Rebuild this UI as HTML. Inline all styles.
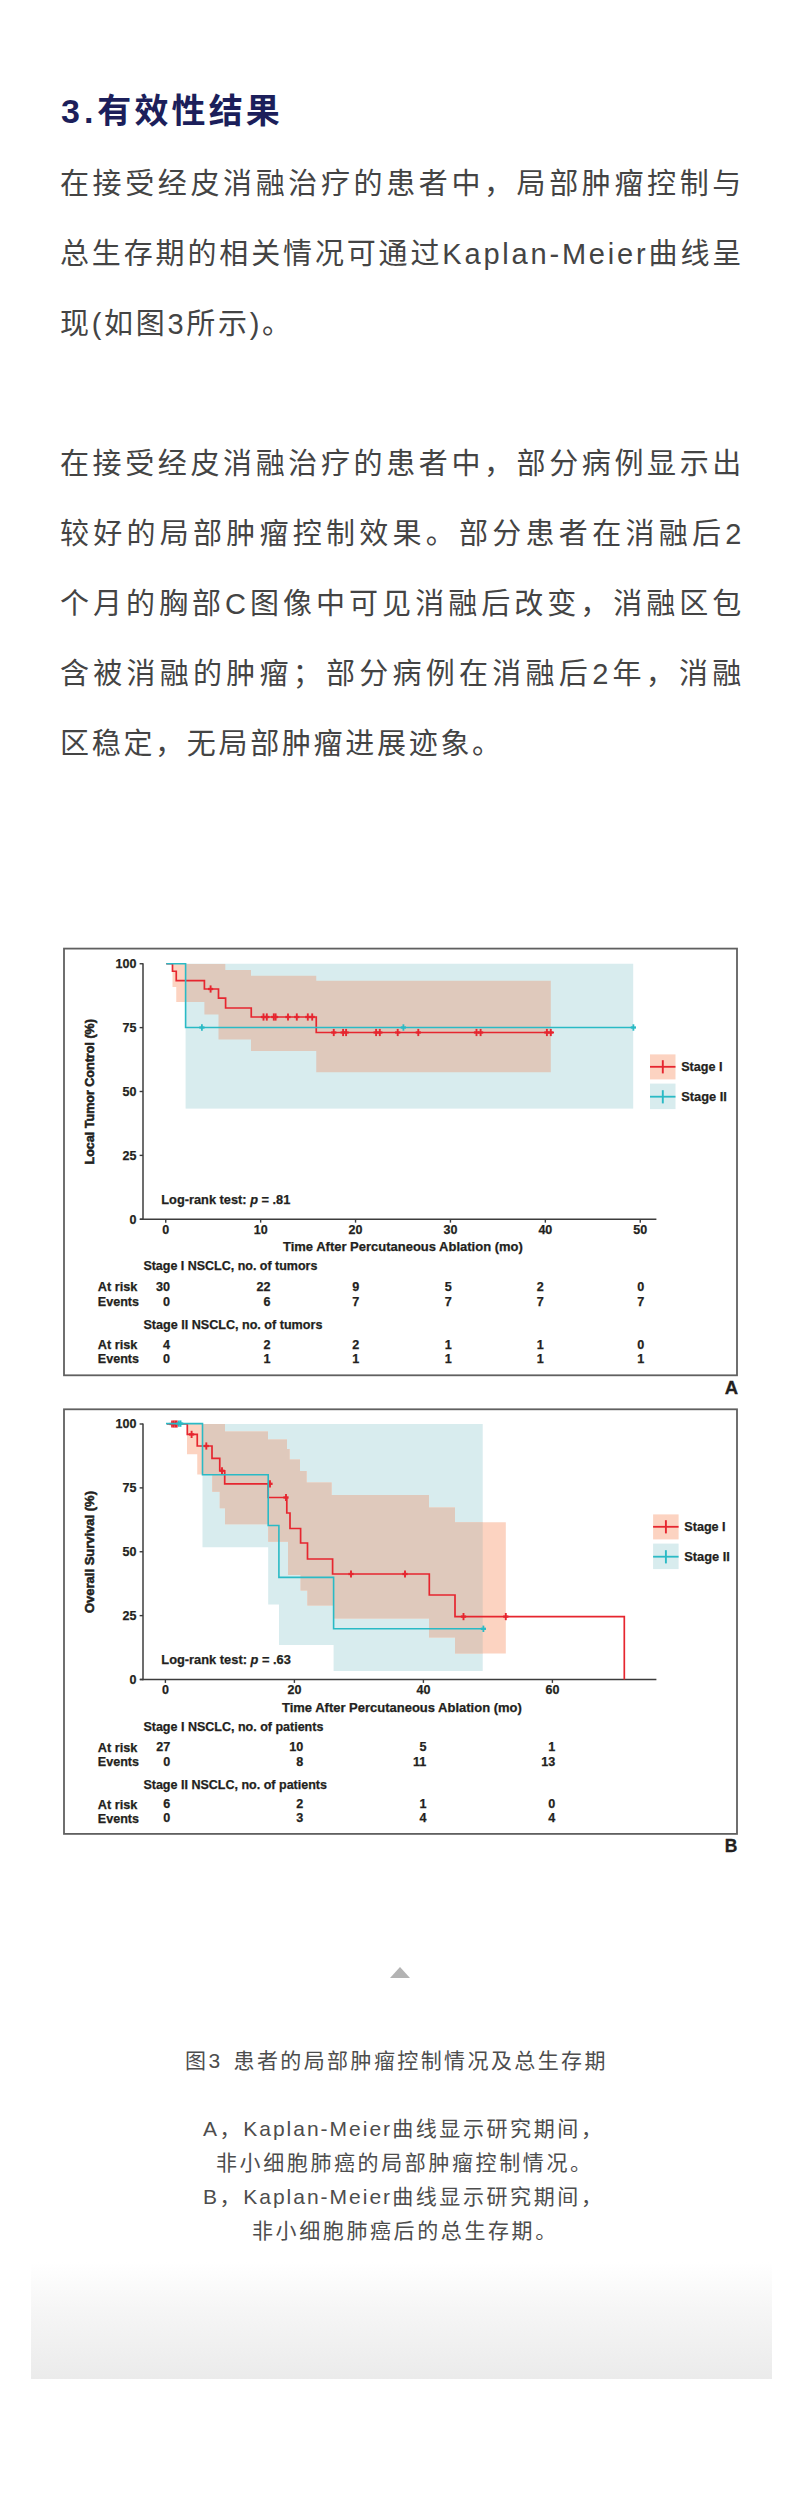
<!DOCTYPE html>
<html lang="zh-CN">
<head>
<meta charset="utf-8">
<title>3.有效性结果</title>
<style>
html,body{margin:0;padding:0;background:#fff;}
body{width:800px;height:2519px;position:relative;overflow:hidden;}
.t{position:absolute;white-space:nowrap;font-family:"Liberation Sans","Noto Sans CJK SC",sans-serif;}
h2.t{margin:0;left:61px;top:86px;font-size:34px;line-height:50px;font-weight:bold;color:#1c1f5b;letter-spacing:3.1px;}
.p{left:60px;font-size:29px;line-height:70px;height:70px;color:#444;letter-spacing:2.7px;width:684px;text-align:justify;text-align-last:justify;}
.p.last{text-align:left;text-align-last:left;width:auto;}
.charts{position:absolute;left:0;top:0;}
.tri{position:absolute;left:390px;top:1967px;width:0;height:0;border-left:10px solid transparent;border-right:10px solid transparent;border-bottom:11px solid #b3b3b3;}
.grad{position:absolute;left:31px;top:2262px;width:741px;height:117px;background:linear-gradient(to bottom,#fff 0%,#f6f6f6 40%,#ebebeb 100%);}
.c{font-size:21px;line-height:34px;color:#4d4d4d;letter-spacing:2.6px;}
.l{letter-spacing:2.8px;}
.c .l{letter-spacing:2.0px;}
</style>
</head>
<body>
<h2 class="t"><span style="letter-spacing:4px">3.</span>有效性结果</h2>
<div class="t p" style="top:149px">在接受经皮消融治疗的患者中，局部肿瘤控制与</div>
<div class="t p" style="top:219px">总生存期的相关情况可通过<span class="l">Kaplan-Meier</span>曲线呈</div>
<div class="t p last" style="top:289px">现(如图3所示)。</div>
<div class="t p" style="top:429px">在接受经皮消融治疗的患者中，部分病例显示出</div>
<div class="t p" style="top:499px">较好的局部肿瘤控制效果。部分患者在消融后2</div>
<div class="t p" style="top:569px">个月的胸部C图像中可见消融后改变，消融区包</div>
<div class="t p" style="top:639px">含被消融的肿瘤；部分病例在消融后2年，消融</div>
<div class="t p last" style="top:709px">区稳定，无局部肿瘤进展迹象。</div>
<svg class="charts" width="800" height="2519" viewBox="0 0 800 2519" font-family="'Liberation Sans', sans-serif">
<rect x="62" y="946" width="677" height="910" fill="#fff"/>
<rect x="64" y="948.6" width="673" height="426.7" fill="none" stroke="#606060" stroke-width="1.8"/>
<rect x="185.6" y="963.75" width="447.60" height="144.85" fill="#d8ecee"/>
<clipPath id="cpA"><rect x="0" y="0" width="185.6" height="2519"/><rect x="633.2" y="0" width="200" height="2519"/><rect x="185.6" y="1108.6" width="500" height="400"/></clipPath>
<clipPath id="coA"><rect x="185.6" y="963.75" width="447.60" height="144.85"/></clipPath>
<path d="M172.50,963.75 L225.30,963.75 L225.30,970.00 L251.00,970.00 L251.00,975.75 L316.25,975.75 L316.25,980.70 L550.80,980.70 L550.80,1072.30 L316.25,1072.30 L316.25,1051.00 L251.00,1051.00 L251.00,1039.40 L218.50,1039.40 L218.50,1014.40 L204.40,1014.40 L204.40,1001.90 L176.25,1001.90 L176.25,986.90 L172.50,986.90 Z" fill="#fcd3c1" clip-path="url(#cpA)"/>
<path d="M172.50,963.75 L225.30,963.75 L225.30,970.00 L251.00,970.00 L251.00,975.75 L316.25,975.75 L316.25,980.70 L550.80,980.70 L550.80,1072.30 L316.25,1072.30 L316.25,1051.00 L251.00,1051.00 L251.00,1039.40 L218.50,1039.40 L218.50,1014.40 L204.40,1014.40 L204.40,1001.90 L176.25,1001.90 L176.25,986.90 L172.50,986.90 Z" fill="#dfc9bc" clip-path="url(#coA)"/>
<line x1="143" y1="963.25" x2="143" y2="1220.05" stroke="#3c3c3c" stroke-width="1.5"/>
<line x1="140" y1="1219.25" x2="656.4" y2="1219.25" stroke="#3c3c3c" stroke-width="1.6"/>
<line x1="139.6" y1="963.75" x2="143" y2="963.75" stroke="#3c3c3c" stroke-width="1.4"/>
<line x1="139.6" y1="1027.62" x2="143" y2="1027.62" stroke="#3c3c3c" stroke-width="1.4"/>
<line x1="139.6" y1="1091.50" x2="143" y2="1091.50" stroke="#3c3c3c" stroke-width="1.4"/>
<line x1="139.6" y1="1155.38" x2="143" y2="1155.38" stroke="#3c3c3c" stroke-width="1.4"/>
<line x1="139.6" y1="1219.25" x2="143" y2="1219.25" stroke="#3c3c3c" stroke-width="1.4"/>
<line x1="165.75" y1="1219.25" x2="165.75" y2="1222.65" stroke="#3c3c3c" stroke-width="1.4"/>
<line x1="260.65" y1="1219.25" x2="260.65" y2="1222.65" stroke="#3c3c3c" stroke-width="1.4"/>
<line x1="355.55" y1="1219.25" x2="355.55" y2="1222.65" stroke="#3c3c3c" stroke-width="1.4"/>
<line x1="450.45" y1="1219.25" x2="450.45" y2="1222.65" stroke="#3c3c3c" stroke-width="1.4"/>
<line x1="545.35" y1="1219.25" x2="545.35" y2="1222.65" stroke="#3c3c3c" stroke-width="1.4"/>
<line x1="640.25" y1="1219.25" x2="640.25" y2="1222.65" stroke="#3c3c3c" stroke-width="1.4"/>
<path d="M166.25,963.75 H172.50 V971.25 H176.25 V980.60 H204.40 V989.00 H218.50 V998.10 H225.60 V1008.00 H251.25 V1017.00 H316.25 V1032.50 H554.00" fill="none" stroke="#e6262f" stroke-width="1.7"/>
<line x1="210.60" y1="985.40" x2="210.60" y2="992.60" stroke="#e6262f" stroke-width="1.9"/><line x1="208.00" y1="989.00" x2="213.20" y2="989.00" stroke="#e6262f" stroke-width="2.3"/>
<line x1="263.50" y1="1013.40" x2="263.50" y2="1020.60" stroke="#e6262f" stroke-width="1.9"/><line x1="260.90" y1="1017.00" x2="266.10" y2="1017.00" stroke="#e6262f" stroke-width="2.3"/><line x1="266.80" y1="1013.40" x2="266.80" y2="1020.60" stroke="#e6262f" stroke-width="1.9"/><line x1="264.20" y1="1017.00" x2="269.40" y2="1017.00" stroke="#e6262f" stroke-width="2.3"/><line x1="273.80" y1="1013.40" x2="273.80" y2="1020.60" stroke="#e6262f" stroke-width="1.9"/><line x1="271.20" y1="1017.00" x2="276.40" y2="1017.00" stroke="#e6262f" stroke-width="2.3"/><line x1="275.60" y1="1013.40" x2="275.60" y2="1020.60" stroke="#e6262f" stroke-width="1.9"/><line x1="273.00" y1="1017.00" x2="278.20" y2="1017.00" stroke="#e6262f" stroke-width="2.3"/><line x1="288.00" y1="1013.40" x2="288.00" y2="1020.60" stroke="#e6262f" stroke-width="1.9"/><line x1="285.40" y1="1017.00" x2="290.60" y2="1017.00" stroke="#e6262f" stroke-width="2.3"/><line x1="296.80" y1="1013.40" x2="296.80" y2="1020.60" stroke="#e6262f" stroke-width="1.9"/><line x1="294.20" y1="1017.00" x2="299.40" y2="1017.00" stroke="#e6262f" stroke-width="2.3"/><line x1="307.80" y1="1013.40" x2="307.80" y2="1020.60" stroke="#e6262f" stroke-width="1.9"/><line x1="305.20" y1="1017.00" x2="310.40" y2="1017.00" stroke="#e6262f" stroke-width="2.3"/><line x1="312.20" y1="1013.40" x2="312.20" y2="1020.60" stroke="#e6262f" stroke-width="1.9"/><line x1="309.60" y1="1017.00" x2="314.80" y2="1017.00" stroke="#e6262f" stroke-width="2.3"/>
<line x1="333.75" y1="1028.90" x2="333.75" y2="1036.10" stroke="#e6262f" stroke-width="1.9"/><line x1="331.15" y1="1032.50" x2="336.35" y2="1032.50" stroke="#e6262f" stroke-width="2.3"/><line x1="343.10" y1="1028.90" x2="343.10" y2="1036.10" stroke="#e6262f" stroke-width="1.9"/><line x1="340.50" y1="1032.50" x2="345.70" y2="1032.50" stroke="#e6262f" stroke-width="2.3"/><line x1="346.10" y1="1028.90" x2="346.10" y2="1036.10" stroke="#e6262f" stroke-width="1.9"/><line x1="343.50" y1="1032.50" x2="348.70" y2="1032.50" stroke="#e6262f" stroke-width="2.3"/><line x1="376.10" y1="1028.90" x2="376.10" y2="1036.10" stroke="#e6262f" stroke-width="1.9"/><line x1="373.50" y1="1032.50" x2="378.70" y2="1032.50" stroke="#e6262f" stroke-width="2.3"/><line x1="379.80" y1="1028.90" x2="379.80" y2="1036.10" stroke="#e6262f" stroke-width="1.9"/><line x1="377.20" y1="1032.50" x2="382.40" y2="1032.50" stroke="#e6262f" stroke-width="2.3"/><line x1="397.70" y1="1028.90" x2="397.70" y2="1036.10" stroke="#e6262f" stroke-width="1.9"/><line x1="395.10" y1="1032.50" x2="400.30" y2="1032.50" stroke="#e6262f" stroke-width="2.3"/><line x1="418.30" y1="1028.90" x2="418.30" y2="1036.10" stroke="#e6262f" stroke-width="1.9"/><line x1="415.70" y1="1032.50" x2="420.90" y2="1032.50" stroke="#e6262f" stroke-width="2.3"/><line x1="476.50" y1="1028.90" x2="476.50" y2="1036.10" stroke="#e6262f" stroke-width="1.9"/><line x1="473.90" y1="1032.50" x2="479.10" y2="1032.50" stroke="#e6262f" stroke-width="2.3"/><line x1="480.60" y1="1028.90" x2="480.60" y2="1036.10" stroke="#e6262f" stroke-width="1.9"/><line x1="478.00" y1="1032.50" x2="483.20" y2="1032.50" stroke="#e6262f" stroke-width="2.3"/><line x1="546.90" y1="1028.90" x2="546.90" y2="1036.10" stroke="#e6262f" stroke-width="1.9"/><line x1="544.30" y1="1032.50" x2="549.50" y2="1032.50" stroke="#e6262f" stroke-width="2.3"/><line x1="550.80" y1="1028.90" x2="550.80" y2="1036.10" stroke="#e6262f" stroke-width="1.9"/><line x1="548.20" y1="1032.50" x2="553.40" y2="1032.50" stroke="#e6262f" stroke-width="2.3"/>
<path d="M166.25,963.75 H185.60 V1027.50 H633.60" fill="none" stroke="#2abac5" stroke-width="1.6"/>
<line x1="201.90" y1="1024.30" x2="201.90" y2="1030.70" stroke="#2abac5" stroke-width="1.8"/><line x1="199.30" y1="1027.50" x2="204.50" y2="1027.50" stroke="#2abac5" stroke-width="2.3"/><line x1="403.40" y1="1024.30" x2="403.40" y2="1030.70" stroke="#2abac5" stroke-width="1.8"/><line x1="400.80" y1="1027.50" x2="406.00" y2="1027.50" stroke="#2abac5" stroke-width="2.3"/><line x1="633.40" y1="1024.30" x2="633.40" y2="1030.70" stroke="#2abac5" stroke-width="1.8"/><line x1="630.80" y1="1027.50" x2="636.00" y2="1027.50" stroke="#2abac5" stroke-width="2.3"/>
<rect x="650.00" y="1054.40" width="25.5" height="25" fill="#fcd3c1"/>
<rect x="650.00" y="1083.60" width="25.5" height="25.5" fill="#d8ecee"/>
<line x1="650.00" y1="1066.80" x2="675.50" y2="1066.80" stroke="#e6262f" stroke-width="1.8"/>
<line x1="662.80" y1="1060.20" x2="662.80" y2="1073.40" stroke="#e6262f" stroke-width="1.9"/>
<line x1="650.00" y1="1096.70" x2="675.50" y2="1096.70" stroke="#2abac5" stroke-width="1.8"/>
<line x1="662.80" y1="1090.20" x2="662.80" y2="1103.40" stroke="#2abac5" stroke-width="1.9"/>
<g fill="#231f20" font-weight="bold" stroke="#231f20" stroke-width="0.25">
<text x="681.20" y="1071.30" font-size="13.2" text-anchor="start" textLength="41.3" lengthAdjust="spacingAndGlyphs">Stage I</text>
<text x="681.20" y="1101.30" font-size="13.2" text-anchor="start" textLength="45.6" lengthAdjust="spacingAndGlyphs">Stage II</text>
<text x="136.40" y="968.05" font-size="12.5" text-anchor="end">100</text>
<text x="136.40" y="1031.92" font-size="12.5" text-anchor="end">75</text>
<text x="136.40" y="1095.80" font-size="12.5" text-anchor="end">50</text>
<text x="136.40" y="1159.67" font-size="12.5" text-anchor="end">25</text>
<text x="136.40" y="1223.55" font-size="12.5" text-anchor="end">0</text>
<text x="165.75" y="1233.65" font-size="12.5" text-anchor="middle">0</text>
<text x="260.65" y="1233.65" font-size="12.5" text-anchor="middle">10</text>
<text x="355.55" y="1233.65" font-size="12.5" text-anchor="middle">20</text>
<text x="450.45" y="1233.65" font-size="12.5" text-anchor="middle">30</text>
<text x="545.35" y="1233.65" font-size="12.5" text-anchor="middle">40</text>
<text x="640.25" y="1233.65" font-size="12.5" text-anchor="middle">50</text>
<text transform="translate(94,1164.50) rotate(-90)" font-size="13.4" textLength="145.4" lengthAdjust="spacingAndGlyphs" stroke="#231f20" stroke-width="0.55">Local Tumor Control (%)</text>
<text x="161.3" y="1203.50" font-size="13.3" textLength="129" lengthAdjust="spacingAndGlyphs">Log-rank test: <tspan font-style="italic">p</tspan> = .81</text>
<text x="283.00" y="1251.30" font-size="12.4" text-anchor="start" textLength="239.8" lengthAdjust="spacingAndGlyphs">Time After Percutaneous Ablation (mo)</text>
<text x="143.40" y="1270.30" font-size="12.6" text-anchor="start" textLength="174.0" lengthAdjust="spacingAndGlyphs">Stage I NSCLC, no. of tumors</text>
<text x="143.40" y="1328.70" font-size="12.6" text-anchor="start" textLength="179.0" lengthAdjust="spacingAndGlyphs">Stage II NSCLC, no. of tumors</text>
<text x="97.80" y="1291.40" font-size="12.6" text-anchor="start" textLength="39.6" lengthAdjust="spacingAndGlyphs">At risk</text>
<text x="97.80" y="1348.70" font-size="12.6" text-anchor="start" textLength="39.6" lengthAdjust="spacingAndGlyphs">At risk</text>
<text x="97.80" y="1305.70" font-size="12.6" text-anchor="start" textLength="41.2" lengthAdjust="spacingAndGlyphs">Events</text>
<text x="97.80" y="1362.50" font-size="12.6" text-anchor="start" textLength="41.2" lengthAdjust="spacingAndGlyphs">Events</text>
<text x="170.00" y="1291.40" font-size="12.6" text-anchor="end">30</text>
<text x="270.60" y="1291.40" font-size="12.6" text-anchor="end">22</text>
<text x="359.20" y="1291.40" font-size="12.6" text-anchor="end">9</text>
<text x="451.70" y="1291.40" font-size="12.6" text-anchor="end">5</text>
<text x="543.80" y="1291.40" font-size="12.6" text-anchor="end">2</text>
<text x="644.20" y="1291.40" font-size="12.6" text-anchor="end">0</text>
<text x="170.00" y="1305.70" font-size="12.6" text-anchor="end">0</text>
<text x="270.60" y="1305.70" font-size="12.6" text-anchor="end">6</text>
<text x="359.20" y="1305.70" font-size="12.6" text-anchor="end">7</text>
<text x="451.70" y="1305.70" font-size="12.6" text-anchor="end">7</text>
<text x="543.80" y="1305.70" font-size="12.6" text-anchor="end">7</text>
<text x="644.20" y="1305.70" font-size="12.6" text-anchor="end">7</text>
<text x="170.00" y="1348.70" font-size="12.6" text-anchor="end">4</text>
<text x="270.60" y="1348.70" font-size="12.6" text-anchor="end">2</text>
<text x="359.20" y="1348.70" font-size="12.6" text-anchor="end">2</text>
<text x="451.70" y="1348.70" font-size="12.6" text-anchor="end">1</text>
<text x="543.80" y="1348.70" font-size="12.6" text-anchor="end">1</text>
<text x="644.20" y="1348.70" font-size="12.6" text-anchor="end">0</text>
<text x="170.00" y="1362.50" font-size="12.6" text-anchor="end">0</text>
<text x="270.60" y="1362.50" font-size="12.6" text-anchor="end">1</text>
<text x="359.20" y="1362.50" font-size="12.6" text-anchor="end">1</text>
<text x="451.70" y="1362.50" font-size="12.6" text-anchor="end">1</text>
<text x="543.80" y="1362.50" font-size="12.6" text-anchor="end">1</text>
<text x="644.20" y="1362.50" font-size="12.6" text-anchor="end">1</text>
</g>
<text x="738" y="1394" font-size="18.5" font-weight="bold" fill="#231f20" stroke="#231f20" stroke-width="0.3" text-anchor="end">A</text>
<rect x="64" y="1409.3" width="673" height="424.6" fill="none" stroke="#606060" stroke-width="1.8"/>
<clipPath id="ctB"><path d="M202.50,1424.00 L482.70,1424.00 L482.70,1671.00 L333.60,1671.00 L333.60,1645.00 L279.00,1645.00 L279.00,1604.40 L268.20,1604.40 L268.20,1547.30 L202.50,1547.30 Z"/></clipPath>
<path d="M202.50,1424.00 L482.70,1424.00 L482.70,1671.00 L333.60,1671.00 L333.60,1645.00 L279.00,1645.00 L279.00,1604.40 L268.20,1604.40 L268.20,1547.30 L202.50,1547.30 Z" fill="#d8ecee"/>
<path d="M187.00,1424.00 L225.00,1424.00 L225.00,1431.40 L268.00,1431.40 L268.00,1439.40 L287.00,1439.40 L287.00,1449.00 L289.60,1449.00 L289.60,1459.40 L300.00,1459.40 L300.00,1471.00 L306.60,1471.00 L306.60,1482.60 L331.60,1482.60 L331.60,1495.00 L429.00,1495.00 L429.00,1507.50 L455.00,1507.50 L455.00,1522.30 L505.80,1522.30 L505.80,1653.50 L455.00,1653.50 L455.00,1637.60 L429.00,1637.60 L429.00,1618.40 L333.60,1618.40 L333.60,1605.60 L307.40,1605.60 L307.40,1590.50 L300.60,1590.50 L300.60,1575.00 L288.00,1575.00 L288.00,1541.70 L268.20,1541.70 L268.20,1524.30 L225.00,1524.30 L225.00,1508.25 L219.75,1508.25 L219.75,1491.75 L212.25,1491.75 L212.25,1474.50 L197.25,1474.50 L197.25,1454.25 L187.00,1454.25 Z" fill="#fcd3c1"/>
<path d="M187.00,1424.00 L225.00,1424.00 L225.00,1431.40 L268.00,1431.40 L268.00,1439.40 L287.00,1439.40 L287.00,1449.00 L289.60,1449.00 L289.60,1459.40 L300.00,1459.40 L300.00,1471.00 L306.60,1471.00 L306.60,1482.60 L331.60,1482.60 L331.60,1495.00 L429.00,1495.00 L429.00,1507.50 L455.00,1507.50 L455.00,1522.30 L505.80,1522.30 L505.80,1653.50 L455.00,1653.50 L455.00,1637.60 L429.00,1637.60 L429.00,1618.40 L333.60,1618.40 L333.60,1605.60 L307.40,1605.60 L307.40,1590.50 L300.60,1590.50 L300.60,1575.00 L288.00,1575.00 L288.00,1541.70 L268.20,1541.70 L268.20,1524.30 L225.00,1524.30 L225.00,1508.25 L219.75,1508.25 L219.75,1491.75 L212.25,1491.75 L212.25,1474.50 L197.25,1474.50 L197.25,1454.25 L187.00,1454.25 Z" fill="#dfc9bc" clip-path="url(#ctB)"/>
<line x1="143" y1="1423.50" x2="143" y2="1680.30" stroke="#3c3c3c" stroke-width="1.5"/>
<line x1="140" y1="1679.50" x2="656.4" y2="1679.50" stroke="#3c3c3c" stroke-width="1.6"/>
<line x1="139.6" y1="1424.00" x2="143" y2="1424.00" stroke="#3c3c3c" stroke-width="1.4"/>
<line x1="139.6" y1="1487.88" x2="143" y2="1487.88" stroke="#3c3c3c" stroke-width="1.4"/>
<line x1="139.6" y1="1551.75" x2="143" y2="1551.75" stroke="#3c3c3c" stroke-width="1.4"/>
<line x1="139.6" y1="1615.62" x2="143" y2="1615.62" stroke="#3c3c3c" stroke-width="1.4"/>
<line x1="139.6" y1="1679.50" x2="143" y2="1679.50" stroke="#3c3c3c" stroke-width="1.4"/>
<line x1="165.40" y1="1679.50" x2="165.40" y2="1682.90" stroke="#3c3c3c" stroke-width="1.4"/>
<line x1="294.40" y1="1679.50" x2="294.40" y2="1682.90" stroke="#3c3c3c" stroke-width="1.4"/>
<line x1="423.40" y1="1679.50" x2="423.40" y2="1682.90" stroke="#3c3c3c" stroke-width="1.4"/>
<line x1="552.40" y1="1679.50" x2="552.40" y2="1682.90" stroke="#3c3c3c" stroke-width="1.4"/>
<path d="M167.00,1424.00 H187.30 V1434.40 H197.25 V1446.00 H212.00 V1458.30 H219.75 V1470.75 H224.70 V1483.80 H268.20 V1497.50 H286.80 V1513.00 H290.00 V1528.50 H300.60 V1543.00 H307.50 V1559.00 H332.60 V1574.00 H429.30 V1595.00 H455.00 V1616.60 H624.30 V1679.50" fill="none" stroke="#e6262f" stroke-width="1.7"/>
<line x1="268" y1="1483.8" x2="271.8" y2="1483.8" stroke="#e6262f" stroke-width="1.6"/>
<line x1="172.00" y1="1420.40" x2="172.00" y2="1427.60" stroke="#e6262f" stroke-width="1.7"/><line x1="169.40" y1="1424.00" x2="174.60" y2="1424.00" stroke="#e6262f" stroke-width="2.3"/><line x1="173.60" y1="1420.40" x2="173.60" y2="1427.60" stroke="#e6262f" stroke-width="1.7"/><line x1="171.00" y1="1424.00" x2="176.20" y2="1424.00" stroke="#e6262f" stroke-width="2.3"/><line x1="175.20" y1="1420.40" x2="175.20" y2="1427.60" stroke="#e6262f" stroke-width="1.7"/><line x1="172.60" y1="1424.00" x2="177.80" y2="1424.00" stroke="#e6262f" stroke-width="2.3"/><line x1="176.80" y1="1420.40" x2="176.80" y2="1427.60" stroke="#e6262f" stroke-width="1.7"/><line x1="174.20" y1="1424.00" x2="179.40" y2="1424.00" stroke="#e6262f" stroke-width="2.3"/>
<line x1="191.60" y1="1430.80" x2="191.60" y2="1438.00" stroke="#e6262f" stroke-width="1.9"/><line x1="189.00" y1="1434.40" x2="194.20" y2="1434.40" stroke="#e6262f" stroke-width="2.3"/>
<line x1="206.30" y1="1442.40" x2="206.30" y2="1449.60" stroke="#e6262f" stroke-width="1.9"/><line x1="203.70" y1="1446.00" x2="208.90" y2="1446.00" stroke="#e6262f" stroke-width="2.3"/>
<line x1="222.00" y1="1467.15" x2="222.00" y2="1474.35" stroke="#e6262f" stroke-width="1.9"/><line x1="219.40" y1="1470.75" x2="224.60" y2="1470.75" stroke="#e6262f" stroke-width="2.3"/>
<line x1="270.00" y1="1480.20" x2="270.00" y2="1487.40" stroke="#e6262f" stroke-width="1.9"/><line x1="267.40" y1="1483.80" x2="272.60" y2="1483.80" stroke="#e6262f" stroke-width="2.3"/>
<line x1="286.00" y1="1493.90" x2="286.00" y2="1501.10" stroke="#e6262f" stroke-width="1.9"/><line x1="283.40" y1="1497.50" x2="288.60" y2="1497.50" stroke="#e6262f" stroke-width="2.3"/>
<line x1="351.00" y1="1570.40" x2="351.00" y2="1577.60" stroke="#e6262f" stroke-width="1.9"/><line x1="348.40" y1="1574.00" x2="353.60" y2="1574.00" stroke="#e6262f" stroke-width="2.3"/><line x1="405.00" y1="1570.40" x2="405.00" y2="1577.60" stroke="#e6262f" stroke-width="1.9"/><line x1="402.40" y1="1574.00" x2="407.60" y2="1574.00" stroke="#e6262f" stroke-width="2.3"/>
<line x1="463.50" y1="1613.00" x2="463.50" y2="1620.20" stroke="#e6262f" stroke-width="1.9"/><line x1="460.90" y1="1616.60" x2="466.10" y2="1616.60" stroke="#e6262f" stroke-width="2.3"/><line x1="505.80" y1="1613.00" x2="505.80" y2="1620.20" stroke="#e6262f" stroke-width="1.9"/><line x1="503.20" y1="1616.60" x2="508.40" y2="1616.60" stroke="#e6262f" stroke-width="2.3"/>
<path d="M166.00,1423.60 H202.50 V1474.80 H268.20 V1525.50 H278.90 V1577.40 H333.60 V1628.80 H483.80" fill="none" stroke="#2abac5" stroke-width="1.6"/>
<line x1="178.90" y1="1420.40" x2="178.90" y2="1426.80" stroke="#2abac5" stroke-width="1.7"/><line x1="176.30" y1="1423.60" x2="181.50" y2="1423.60" stroke="#2abac5" stroke-width="2.3"/><line x1="180.60" y1="1420.40" x2="180.60" y2="1426.80" stroke="#2abac5" stroke-width="1.7"/><line x1="178.00" y1="1423.60" x2="183.20" y2="1423.60" stroke="#2abac5" stroke-width="2.3"/>
<line x1="483.40" y1="1625.60" x2="483.40" y2="1632.00" stroke="#2abac5" stroke-width="1.8"/><line x1="480.80" y1="1628.80" x2="486.00" y2="1628.80" stroke="#2abac5" stroke-width="2.3"/>
<rect x="653.10" y="1514.40" width="25.5" height="25" fill="#fcd3c1"/>
<rect x="653.10" y="1543.60" width="25.5" height="25.5" fill="#d8ecee"/>
<line x1="653.10" y1="1526.80" x2="678.60" y2="1526.80" stroke="#e6262f" stroke-width="1.8"/>
<line x1="665.90" y1="1520.20" x2="665.90" y2="1533.40" stroke="#e6262f" stroke-width="1.9"/>
<line x1="653.10" y1="1556.70" x2="678.60" y2="1556.70" stroke="#2abac5" stroke-width="1.8"/>
<line x1="665.90" y1="1550.20" x2="665.90" y2="1563.40" stroke="#2abac5" stroke-width="1.9"/>
<g fill="#231f20" font-weight="bold" stroke="#231f20" stroke-width="0.25">
<text x="684.30" y="1531.30" font-size="13.2" text-anchor="start" textLength="41.3" lengthAdjust="spacingAndGlyphs">Stage I</text>
<text x="684.30" y="1561.30" font-size="13.2" text-anchor="start" textLength="45.6" lengthAdjust="spacingAndGlyphs">Stage II</text>
<text x="136.40" y="1428.30" font-size="12.5" text-anchor="end">100</text>
<text x="136.40" y="1492.17" font-size="12.5" text-anchor="end">75</text>
<text x="136.40" y="1556.05" font-size="12.5" text-anchor="end">50</text>
<text x="136.40" y="1619.92" font-size="12.5" text-anchor="end">25</text>
<text x="136.40" y="1683.80" font-size="12.5" text-anchor="end">0</text>
<text x="165.40" y="1693.90" font-size="12.5" text-anchor="middle">0</text>
<text x="294.40" y="1693.90" font-size="12.5" text-anchor="middle">20</text>
<text x="423.40" y="1693.90" font-size="12.5" text-anchor="middle">40</text>
<text x="552.40" y="1693.90" font-size="12.5" text-anchor="middle">60</text>
<text transform="translate(93.6,1613) rotate(-90)" font-size="13.4" textLength="122" lengthAdjust="spacingAndGlyphs" stroke="#231f20" stroke-width="0.55">Overall Survival (%)</text>
<text x="161.3" y="1663.5" font-size="13.3" textLength="129.6" lengthAdjust="spacingAndGlyphs">Log-rank test: <tspan font-style="italic">p</tspan> = .63</text>
<text x="282.00" y="1711.55" font-size="12.4" text-anchor="start" textLength="239.8" lengthAdjust="spacingAndGlyphs">Time After Percutaneous Ablation (mo)</text>
<text x="143.40" y="1730.55" font-size="12.6" text-anchor="start" textLength="180.0" lengthAdjust="spacingAndGlyphs">Stage I NSCLC, no. of patients</text>
<text x="143.40" y="1788.95" font-size="12.6" text-anchor="start" textLength="183.6" lengthAdjust="spacingAndGlyphs">Stage II NSCLC, no. of patients</text>
<text x="97.80" y="1751.65" font-size="12.6" text-anchor="start" textLength="39.6" lengthAdjust="spacingAndGlyphs">At risk</text>
<text x="97.80" y="1808.95" font-size="12.6" text-anchor="start" textLength="39.6" lengthAdjust="spacingAndGlyphs">At risk</text>
<text x="97.80" y="1765.95" font-size="12.6" text-anchor="start" textLength="41.2" lengthAdjust="spacingAndGlyphs">Events</text>
<text x="97.80" y="1822.75" font-size="12.6" text-anchor="start" textLength="41.2" lengthAdjust="spacingAndGlyphs">Events</text>
<text x="170.30" y="1751.40" font-size="12.6" text-anchor="end">27</text>
<text x="303.30" y="1751.40" font-size="12.6" text-anchor="end">10</text>
<text x="426.40" y="1751.40" font-size="12.6" text-anchor="end">5</text>
<text x="555.20" y="1751.40" font-size="12.6" text-anchor="end">1</text>
<text x="170.30" y="1765.70" font-size="12.6" text-anchor="end">0</text>
<text x="303.30" y="1765.70" font-size="12.6" text-anchor="end">8</text>
<text x="426.40" y="1765.70" font-size="12.6" text-anchor="end">11</text>
<text x="555.20" y="1765.70" font-size="12.6" text-anchor="end">13</text>
<text x="170.30" y="1808.40" font-size="12.6" text-anchor="end">6</text>
<text x="303.30" y="1808.40" font-size="12.6" text-anchor="end">2</text>
<text x="426.40" y="1808.40" font-size="12.6" text-anchor="end">1</text>
<text x="555.20" y="1808.40" font-size="12.6" text-anchor="end">0</text>
<text x="170.30" y="1821.80" font-size="12.6" text-anchor="end">0</text>
<text x="303.30" y="1821.80" font-size="12.6" text-anchor="end">3</text>
<text x="426.40" y="1821.80" font-size="12.6" text-anchor="end">4</text>
<text x="555.20" y="1821.80" font-size="12.6" text-anchor="end">4</text>
</g>
<text x="737.5" y="1852.3" font-size="17.5" font-weight="bold" fill="#231f20" stroke="#231f20" stroke-width="0.3" text-anchor="end">B</text>
</svg>
<div class="tri"></div>
<div class="grad"></div>
<div class="t c" style="top:2044px;left:185px;letter-spacing:2.4px">图3<span style="display:inline-block;width:11px"></span>患者的局部肿瘤控制情况及总生存期</div>
<div class="t c" style="top:2112px;left:203px">A，<span class="l">Kaplan-Meier</span>曲线显示研究期间，</div>
<div class="t c" style="top:2146px;left:216px">非小细胞肺癌的局部肿瘤控制情况。</div>
<div class="t c" style="top:2180px;left:203px">B，<span class="l">Kaplan-Meier</span>曲线显示研究期间，</div>
<div class="t c" style="top:2214px;left:252px">非小细胞肺癌后的总生存期。</div>
</body>
</html>
